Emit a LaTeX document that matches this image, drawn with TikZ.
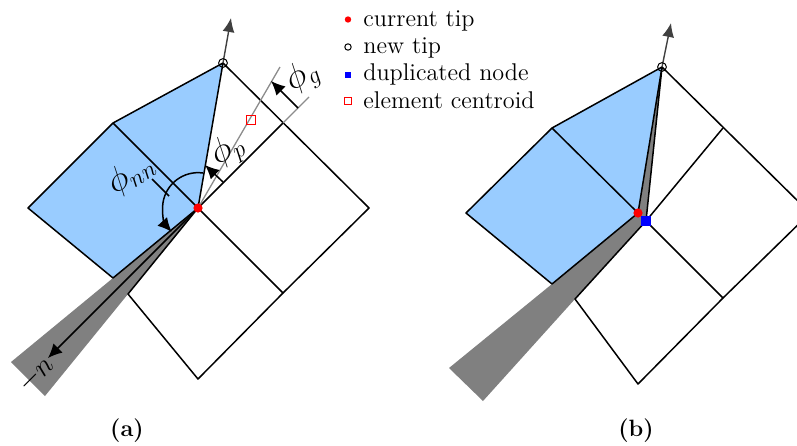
\documentclass[tikz,border=0pt]{standalone}
\usetikzlibrary{arrows.meta}
\definecolor{elemblue}{HTML}{99CCFF}
\definecolor{crack}{HTML}{808080}
\definecolor{darkarrow}{HTML}{404040}
\definecolor{guide}{HTML}{8C8C8C}
\tikzset{
  mesh/.style={black,line width=0.75pt,line join=round},
  blueelem/.style={fill=elemblue,draw=none},
  wedge/.style={fill=crack,draw=none},
  dirarrow/.style={darkarrow,line width=0.7pt,-{Latex[length=7pt,width=6pt]}},
  guideline/.style={guide,line width=0.65pt},
  dimarrow/.style={black,line width=0.75pt,-{Latex[length=7pt,width=6.5pt]}},
  plainline/.style={black,line width=0.75pt},
  curdot/.style={circle,fill=red,inner sep=0pt,minimum size=4.6pt},
  newtip/.style={circle,draw=black,line width=0.5pt,inner sep=0pt,minimum size=4.4pt},
  dupnode/.style={rectangle,fill=blue,inner sep=0pt,minimum size=4.6pt},
  centroid/.style={rectangle,draw=red,line width=0.5pt,inner sep=0pt,minimum size=4.4pt},
  keysmall/.style={minimum size=3.2pt},
  legendtext/.style={anchor=base west,inner sep=0pt,font=\fontsize{12.1}{14}\selectfont},
  anglabel/.style={inner sep=0pt,font=\fontsize{17.5}{20}\selectfont},
  captext/.style={inner sep=0pt,font=\fontsize{11.8}{13}\selectfont\bfseries},
}
\begin{document}
\begin{tikzpicture}[x=0.5pt,y=-0.5pt]
\useasboundingbox (0,0) rectangle (797,445);
\clip (0,0) rectangle (797,445);
% --- panel (a)
\coordinate (aT) at (198,208);
\coordinate (aTop) at (223,63);
\coordinate (aUL) at (113,123);
\coordinate (aL) at (28,208);
\coordinate (aB) at (113,278);
\coordinate (aUR) at (283,123);
\coordinate (aR) at (369,208);
\coordinate (aLR) at (283,293);
\coordinate (aBot) at (198,379);
\coordinate (aC) at (128,294);
\coordinate (aW1) at (11,362);
\coordinate (aW2) at (45,396);
\coordinate (aArrow) at (231,18);
\coordinate (aG1) at (280,67);
\coordinate (aG2) at (309,97);
\coordinate (aN) at (48,358);
\coordinate (aP1) at (223,182);
\coordinate (aP2) at (205,165);
\coordinate (aQ1) at (298,108);
\coordinate (aQ2) at (271,81);
\coordinate (aL1) at (152,179);
\coordinate (aL2) at (169,196);
\fill[blueelem] (aUL)--(aTop)--(aT)--(aB)--(aL)--cycle;
\fill[wedge] (aT)--(aW1)--(aW2)--cycle;
\draw[mesh] (aB)--(aL)--(aUL)--(aTop)--(aT)--(aB);
\draw[mesh] (aUL)--(aT);
\draw[mesh] (aTop)--(aR)--(aLR)--(aT);
\draw[mesh] (aT)--(aUR);
\draw[mesh] (aT)--(aC)--(aBot)--(aLR);
\draw[guideline] (aT)--(aG1);
\draw[guideline] (aUR)--(aG2);
\draw[dirarrow] (aTop)--(aArrow);
\draw[dimarrow] (aT)--(aN);
\draw[dimarrow] (aP1)--(aP2);
\draw[dimarrow] (aQ1)--(aQ2);
\draw[plainline] (aL1)--(aL2);
\draw[dimarrow] (203,173) arc[start angle=-82,end angle=-222,radius=35.5];
\node[centroid] (ac) at (251,120) {};
\node[curdot] (ad) at (aT) {};
\node[newtip] (an) at (aTop) {};
\node[anglabel,rotate=32] (lnn) at (131,174) {$\phi_{nn}$};
\node[anglabel,rotate=32] (lp) at (228,151) {$\phi_{p}$};
\node[anglabel,rotate=32] (lg) at (303,77) {$\phi_{g}$};
\node[anglabel,rotate=45,font=\fontsize{15}{18}\selectfont] (ln) at (36,375) {$-n$};
\node[captext] (capa) at (127,431) {(a)};
% --- panel (b)
\coordinate (bT) at (638,213);
\coordinate (bD) at (646,221);
\coordinate (bTop) at (662,67);
\coordinate (bUL) at (552,128);
\coordinate (bL) at (466,213);
\coordinate (bB) at (552,284);
\coordinate (bUR) at (723,128);
\coordinate (bR) at (810,213);
\coordinate (bLR) at (723,298);
\coordinate (bBot) at (638,384);
\coordinate (bC) at (575,299);
\coordinate (bW1) at (449,368);
\coordinate (bW2) at (483,401);
\coordinate (bArrow) at (671,23);
\fill[blueelem] (bUL)--(bTop)--(bT)--(bB)--(bL)--cycle;
\fill[wedge] (bT)--(bB)--(bW1)--(bW2)--(bC)--(bD)--(bTop)--cycle;
\draw[mesh] (bB)--(bL)--(bUL)--(bTop)--(bT)--(bB);
\draw[mesh] (bUL)--(bT);
\draw[mesh] (bTop)--(bR)--(bLR)--(bD)--(bTop);
\draw[mesh] (bD)--(bUR);
\draw[mesh] (bD)--(bC)--(bBot)--(bLR);
\draw[dirarrow] (bTop)--(bArrow);
\node[curdot] (bd) at (bT) {};
\node[dupnode] (bq) at (bD) {};
\node[newtip] (bn) at (bTop) {};
\node[captext] (capb) at (636,431) {(b)};
% --- legend
\node[curdot,keysmall] (k1) at (348,19.5) {};
\node[newtip,keysmall] (k2) at (348,47) {};
\node[dupnode,keysmall] (k3) at (348,75) {};
\node[centroid,keysmall] (k4) at (348,101) {};
\node[legendtext] (t1) at (363,26) {current tip};
\node[legendtext] (t2) at (363,53) {new tip};
\node[legendtext] (t3) at (363,80) {duplicated node};
\node[legendtext] (t4) at (363,108) {element centroid};
\end{tikzpicture}
\end{document}
